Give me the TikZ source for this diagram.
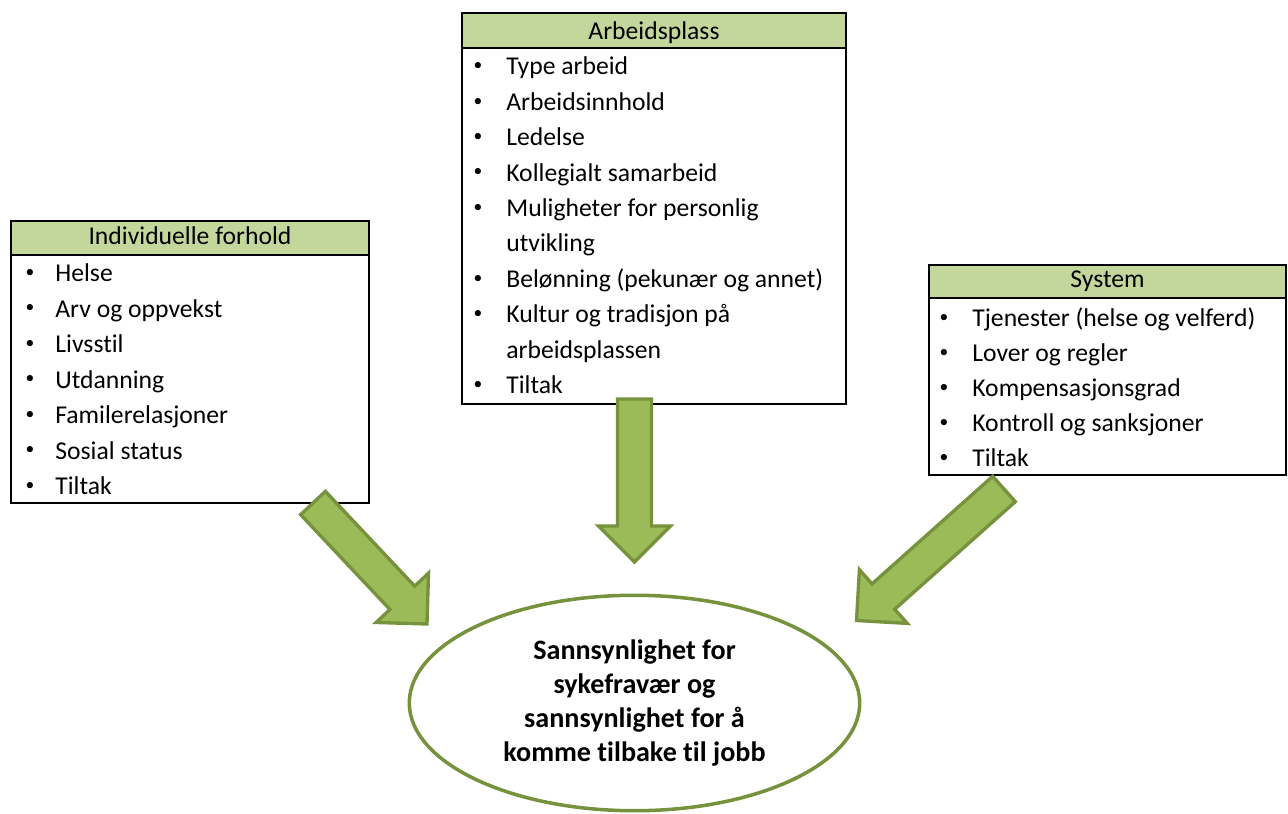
\documentclass[tikz,border=0pt]{standalone}
\usepackage{fontspec}
\setmainfont{Carlito}[Ligatures=NoCommon]
\usetikzlibrary{calc,shapes.geometric}
\definecolor{hdrgreen}{RGB}{195,214,155}
\definecolor{arrowfill}{RGB}{155,187,89}
\definecolor{arrowline}{RGB}{118,146,60}
% block arrow from tail coordinate #1 to tip coordinate #2
\newcommand{\blockarrow}[2]{%
  \path ($(#2)!0.72cm!(#1)$) coordinate (#2-base);
  \draw[arrowbody] ($(#1)!0.34cm!90:(#2)$) -- ($(#2-base)!0.34cm!-90:(#1)$)
    -- ($(#2-base)!0.72cm!-90:(#1)$) -- (#2) -- ($(#2-base)!0.72cm!90:(#1)$)
    -- ($(#2-base)!0.34cm!90:(#1)$) -- ($(#1)!0.34cm!-90:(#2)$) -- cycle;}
\begin{document}
\begin{tikzpicture}[x=0.02cm,y=-0.02cm,
	boxline/.style={draw=black,line width=1.1pt},
	txt/.style={font=\fontsize{14.6}{17}\selectfont,inner sep=0pt},
	dot/.style={font=\fontsize{10}{12}\selectfont,inner sep=0pt},
	arrowbody/.style={fill=arrowfill,draw=arrowline,line width=1.9pt},
	goal/.style={ellipse,draw=arrowline,line width=2pt,fill=white,minimum width=9.01cm,minimum height=4.31cm,align=center,inner sep=0pt,font=\fontsize{16}{19.2}\selectfont\bfseries}]
	
	\useasboundingbox (0,0) rectangle (1288,814);
	
	% Individuelle forhold
	\draw[boxline][fill=hdrgreen](11,221) rectangle (369,255);
	\draw[boxline](11,255) rectangle (369,503);
	\node[txt,anchor=base] (indiv) at (190,245) {Individuelle forhold};
	\foreach \b/\t [count=\i] in {1/Helse,1/Arv og oppvekst,1/Livsstil,1/Utdanning,1/Familerelasjoner,1/Sosial status,1/Tiltak}{
		\node[txt,anchor=base west] (indiv-\i) at (55,{281.7+35.5*(\i-1)}) {\t};
		\ifnum\b=1 \node[dot] (indiv-b\i) at (30,{273.3+35.5*(\i-1)}) {•};\fi
	}
	
	% Arbeidsplass
	\draw[boxline][fill=hdrgreen](462,13) rectangle (846,48);
	\draw[boxline](462,48) rectangle (846,404);
	\node[txt,anchor=base] (arb) at (654,40) {Arbeidsplass};
	\foreach \b/\t [count=\i] in {1/Type arbeid,1/Arbeidsinnhold,1/Ledelse,1/Kollegialt samarbeid,1/Muligheter for personlig,0/utvikling,1/Belønning (pekunær og annet),1/Kultur og tradisjon på,0/arbeidsplassen,1/Tiltak}{
		\node[txt,anchor=base west] (arb-\i) at (506,{75+35.4*(\i-1)}) {\t};
		\ifnum\b=1 \node[dot] (arb-b\i) at (478,{66.6+35.4*(\i-1)}) {•};\fi
	}
	
	% System
	\draw[boxline][fill=hdrgreen](929,265) rectangle (1286,298);
	\draw[boxline](929,298) rectangle (1286,475);
	\node[txt,anchor=base] (sys) at (1107.5,288) {System};
	\foreach \b/\t [count=\i] in {1/Tjenester (helse og velferd),1/Lover og regler,1/Kompensasjonsgrad,1/Kontroll og sanksjoner,1/Tiltak}{
		\node[txt,anchor=base west] (sys-\i) at (972,{326.7+35*(\i-1)}) {\t};
		\ifnum\b=1 \node[dot] (sys-b\i) at (944,{318.3+35*(\i-1)}) {•};\fi
	}
	
	% arrows
	\coordinate (indiv-tail) at (313,503);
	\coordinate (indiv-tip) at (427,624);
	\coordinate (arb-tail) at (634.5,399);
	\coordinate (arb-tip) at (634.5,562);
	\coordinate (sys-tail) at (1004,489);
	\coordinate (sys-tip) at (856.5,620.5);
	\blockarrow{indiv-tail}{indiv-tip}
	\blockarrow{arb-tail}{arb-tip}
	\blockarrow{sys-tail}{sys-tip}
	
	\node[goal] (goal) at (634.5,703) {Sannsynlighet for\\sykefravær og\\sannsynlighet for å\\komme tilbake til jobb};
	
\end{tikzpicture}
\end{document}
